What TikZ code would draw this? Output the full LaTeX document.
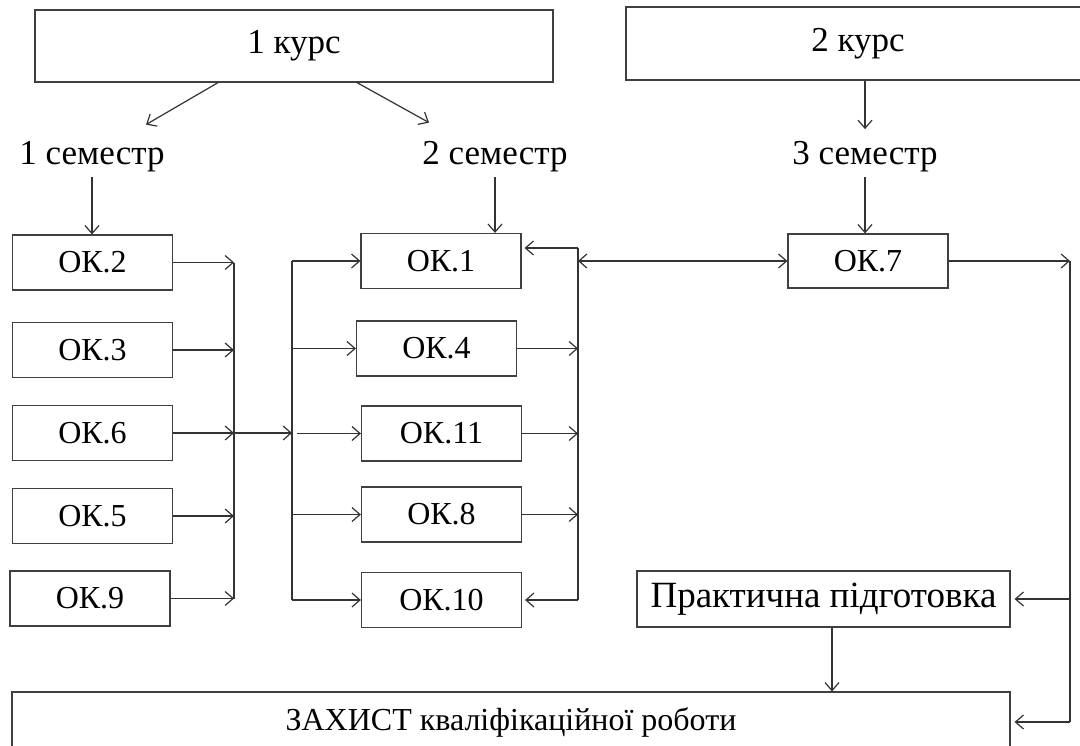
\documentclass[tikz,border=0pt]{standalone}
\usepackage{fontspec}
\setmainfont{Liberation Serif}
\usetikzlibrary{arrows.meta}

\begin{document}
\begin{tikzpicture}[x=0.5pt, y=-0.5pt, line width=0.6pt,
  box/.style={draw=black!75, rectangle, inner sep=0pt, minimum width=80pt, minimum height=27.5pt, font=\fontsize{16}{19}\selectfont},
  lbl/.style={inner sep=0pt, font=\fontsize{17.5}{21}\selectfont},
  arr/.style={draw=black!80, -{Straight Barb[length=4pt,width=7pt]}}]
\useasboundingbox (0,0) rectangle (1080,745);
\fill[white] (0,0) rectangle (1080,745);
\clip (0,0) rectangle (1080,745);

% courses and semesters
\node[box, minimum width=259pt, minimum height=36pt, font=\fontsize{17.5}{21}\selectfont] (kurs1) at (294,46) {1 курс};
\node[box, minimum width=232pt, minimum height=36.5pt, font=\fontsize{17.5}{21}\selectfont] (kurs2) at (858,43.5) {2 курс};
\node[lbl] (sem1) at (92,157) {1 семестр};
\node[lbl] (sem2) at (495,157) {2 семестр};
\node[lbl] (sem3) at (865,157) {3 семестр};

% first semester
\node[box] (ok2) at (92.5,262.5) {ОК.2};
\node[box] (ok3) at (92.5,350) {ОК.3};
\node[box] (ok6) at (92.5,433) {ОК.6};
\node[box] (ok5) at (92.5,516) {ОК.5};
\node[box] (ok9) at (90,598.5) {ОК.9};

% second semester
\node[box] (ok1) at (441,261) {ОК.1};
\node[box] (ok4) at (436.5,348.5) {ОК.4};
\node[box] (ok11) at (441.5,433.5) {ОК.11};
\node[box] (ok8) at (441.5,514.5) {ОК.8};
\node[box] (ok10) at (441.5,600) {ОК.10};

% third semester
\node[box, minimum height=27pt] (ok7) at (868,261) {ОК.7};
\node[box, minimum width=186.5pt, minimum height=28pt, font=\fontsize{18.5}{22}\selectfont] (prakt) at (823.5,599) {Практична підготовка};
\node[box, minimum width=499pt, minimum height=30pt] (zakhyst) at (511,722) {ЗАХИСТ кваліфікаційної роботи};

\coordinate (busA) at (234,0);
\coordinate (busB) at (292,0);
\coordinate (busC) at (578,0);
\coordinate (c1) at (578,248);
\coordinate (busD) at (1070,0);

\draw[arr] ([xshift=-38pt]kurs1.south) -- ++(-72,42);
\draw[arr] ([xshift=31.5pt]kurs1.south) -- ++(72,40);
\draw[arr] (kurs2.south -| sem3.north) -- ([yshift=6pt]sem3.north);
\draw[arr, shorten <=2pt] (sem1.south) -- (sem1.south |- ok2.north);
\draw[arr, shorten <=2pt] (sem2.south) -- (sem2.south |- ok1.north);
\draw[arr, shorten <=2pt] (sem3.south) -- (sem3.south |- ok7.north);

% left bus
\draw[draw=black!80] (ok2.east -| busA) -- (ok9.east -| busA);
\draw[arr] (ok2.east) -- (ok2.east -| busA);
\draw[arr] (ok3.east) -- (ok3.east -| busA);
\draw[arr] (ok6.east) -- (ok6.east -| busA);
\draw[arr] (ok5.east) -- (ok5.east -| busA);
\draw[arr] (ok9.east) -- (ok9.east -| busA);
\draw[arr] (ok6.east -| busA) -- (ok6.east -| busB);

% middle bus
\draw[draw=black!80] (ok1.west -| busB) -- (ok10.west -| busB);
\draw[arr] (ok1.west -| busB) -- (ok1.west);
\draw[arr] (ok4.west -| busB) -- (ok4.west);
\draw[arr] ([xshift=2.5pt]ok11.west -| busB) -- (ok11.west);
\draw[arr] (ok8.west -| busB) -- (ok8.west);
\draw[arr] (ok10.west -| busB) -- (ok10.west);

% right bus
\draw[draw=black!80] (c1) -- (ok10.east -| busC);
\draw[arr, shorten >=1.5pt] (c1) -- (c1 -| ok1.east);
\draw[arr] (ok4.east) -- (ok4.east -| busC);
\draw[arr] (ok11.east) -- (ok11.east -| busC);
\draw[arr] (ok8.east) -- (ok8.east -| busC);
\draw[arr, shorten >=1.5pt] (ok10.east -| busC) -- (ok10.east);
\draw[arr, {Straight Barb[length=4pt,width=7pt]}-{Straight Barb[length=4pt,width=7pt]}] (ok7.west -| busC) -- (ok7.west);

% practice and defence
\draw[arr] (ok7.east) -- (ok7.east -| busD);
\draw[draw=black!80] (ok7.east -| busD) -- (zakhyst.east -| busD);
\draw[arr, shorten >=2pt] (prakt.east -| busD) -- (prakt.east);
\draw[arr, shorten >=2pt] (zakhyst.east -| busD) -- (zakhyst.east);
\draw[arr] ([xshift=4.25pt]prakt.south) -- ([xshift=4.25pt]prakt.south |- zakhyst.north);
\end{tikzpicture}
\end{document}
